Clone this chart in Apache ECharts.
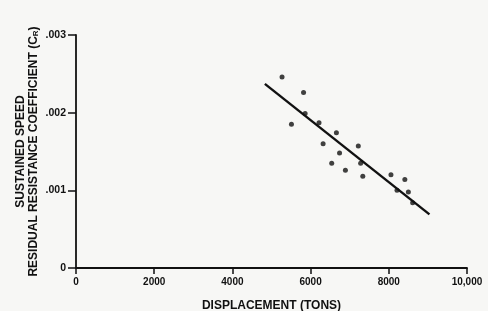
<!DOCTYPE html>
<html>
<head>
<meta charset="utf-8">
<script src="https://cdn.jsdelivr.net/npm/echarts@6/dist/echarts.min.js"></script>
<style>
  html, body { margin: 0; padding: 0; background: #f7f7f5; }
  #chart { width: 488px; height: 311px; }
</style>
</head>
<body>
<div id="chart"></div>
<script>
// 观测点 (displacement, Cr)
var dispTons = [5270, 5820, 5510, 5860, 6215, 6660, 6320, 7220, 6740, 6540, 6890, 7280, 7335, 8055, 8410, 8210, 8500, 8610];
var coefCr = [0.00246, 0.00226, 0.00185, 0.00199, 0.00187, 0.00174, 0.00160, 0.00157, 0.00148, 0.00135, 0.00126, 0.00135, 0.00118, 0.00120, 0.00114, 0.00100, 0.00098, 0.00084];

// 拟合直线两端
var fitX = [4830, 9040];
var fitY = [0.00237, 0.00069];

var yTickLabels = {0: '0', 0.001: '.001', 0.002: '.002', 0.003: '.003'};
var xTickLabels = {0: '0', 2000: '2000', 4000: '4000', 6000: '6000', 8000: '8000', 10000: '10,000'};

var points = dispTons.map(function (x, i) { return [x, coefCr[i]]; });
var fitLine = fitX.map(function (x, i) { return [x, fitY[i]]; });

var font = 'Liberation Sans';
var chart = echarts.init(document.getElementById('chart'));
var option = {
    backgroundColor: '#f7f7f5',
    animation: false,
    grid: {
        left: 76,
        right: 21,
        top: 35,
        bottom: 43,
        outerBoundsMode: 'none'
    },
    xAxis: {
        type: 'value',
        min: 0,
        max: 10000,
        interval: 2000,
        name: 'DISPLACEMENT (TONS)',
        nameLocation: 'middle',
        nameGap: 32,
        nameTextStyle: { color: '#111', fontFamily: font, fontWeight: 'bold', fontSize: 12 },
        axisLine: { lineStyle: { color: '#111', width: 1.8 } },
        axisTick: { length: 6, lineStyle: { color: '#111', width: 1.5 } },
        splitLine: { show: false },
        axisLabel: {
            color: '#111', fontFamily: font, fontWeight: 'bold', fontSize: 10, margin: 9,
            formatter: function (v) { return xTickLabels[v]; }
        }
    },
    yAxis: {
        type: 'value',
        min: 0,
        max: 0.003,
        interval: 0.001,
        name: 'SUSTAINED SPEED\nRESIDUAL RESISTANCE COEFFICIENT (C{sub|R})',
        nameLocation: 'middle',
        nameGap: 36,
        nameMoveOverlap: false,
        nameTextStyle: {
            color: '#111', fontFamily: font, fontWeight: 'bold', fontSize: 12, lineHeight: 13,
            rich: {
                sub: { fontFamily: font, fontWeight: 'bold', fontSize: 8, verticalAlign: 'bottom', padding: [4, 0, 0, 0], color: '#111' }
            }
        },
        axisLine: { show: true, lineStyle: { color: '#111', width: 1.8 } },
        axisTick: { show: true, length: 8, lineStyle: { color: '#111', width: 1.5 } },
        splitLine: { show: false },
        axisLabel: {
            color: '#111', fontFamily: font, fontWeight: 'bold', fontSize: 10.5, margin: 10,
            formatter: function (v) { return yTickLabels[Math.round(v * 1000) / 1000]; }
        }
    },
    series: [
        {
            type: 'line',
            data: fitLine,
            symbol: 'none',
            lineStyle: { color: '#111', width: 2.4 },
            silent: true
        },
        {
            type: 'scatter',
            data: points,
            symbol: 'circle',
            symbolSize: 5,
            itemStyle: { color: '#111' }
        }
    ]
};
chart.setOption(option);
</script>
</body>
</html>
